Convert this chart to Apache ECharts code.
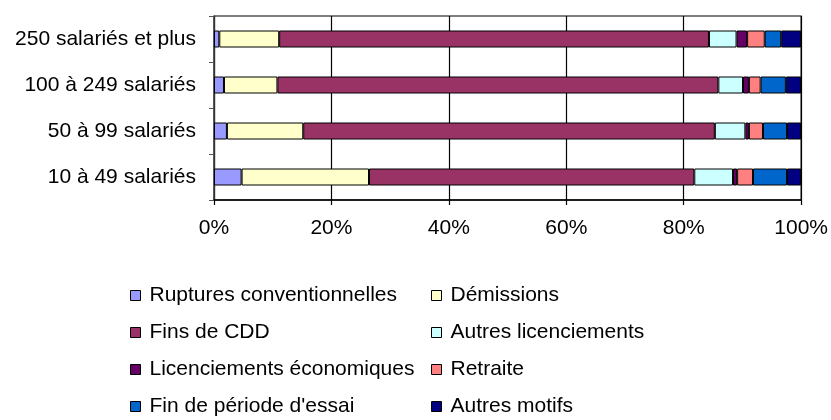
<!DOCTYPE html>
<html>
<head>
<meta charset="utf-8">
<script src="https://cdn.jsdelivr.net/npm/echarts@6/dist/echarts.min.js"></script>
<style>
  html, body { margin: 0; padding: 0; background: #fff; }
  #main { width: 831px; height: 420px; }
</style>
</head>
<body>
<div id="main"></div>
<script>
// catégories (de bas en haut)
const categories = ['10 à 49 salariés', '50 à 99 salariés', '100 à 249 salariés', '250 salariés et plus']
const xTicks = [0, 20, 40, 60, 80, 100]

// parts en %
const ruptures = [4.7, 2.2, 1.7, 0.9]
const demissions = [21.7, 13.0, 9.1, 10.2]
const finsCdd = [55.4, 70.1, 75.1, 73.2]
const autresLic = [6.6, 5.2, 4.2, 4.7]
const licEco = [0.7, 0.6, 1.0, 1.8]
const retraite = [2.7, 2.4, 2.0, 3.0]
const finEssai = [5.8, 4.1, 4.3, 2.8]
const autresMotifs = [2.4, 2.4, 2.6, 3.4]

const seriesDefs = [
  { name: 'Ruptures conventionnelles', data: ruptures, color: '#9999FF' },
  { name: 'Démissions', data: demissions, color: '#FFFFCC' },
  { name: 'Fins de CDD', data: finsCdd, color: '#993366' },
  { name: 'Autres licenciements', data: autresLic, color: '#CCFFFF' },
  { name: 'Licenciements économiques', data: licEco, color: '#660066' },
  { name: 'Retraite', data: retraite, color: '#FF8080' },
  { name: "Fin de période d'essai", data: finEssai, color: '#0066CC' },
  { name: 'Autres motifs', data: autresMotifs, color: '#000080' }
]

const font = "'Liberation Sans', Arial, sans-serif"
const lineColor = 'rgba(0,0,0,1)'

const legendBase = {
  orient: 'vertical',
  top: 285,
  height: 135,
  padding: 0,
  itemWidth: 10,
  itemHeight: 10,
  itemGap: 16,
  icon: 'rect',
  itemStyle: { borderColor: '#000', borderWidth: 1 },
  textStyle: { fontFamily: font, fontSize: 21, color: '#000', lineHeight: 21, padding: [0, 0, 0, 4] }
}

const myChart = echarts.init(document.getElementById('main'))
const option = {
  animation: false,
  grid: {
    left: 214,
    right: 29,
    top: 16,
    bottom: 220,
    show: true,
    backgroundColor: 'rgba(255,255,255,0)',
    borderColor: lineColor,
    borderWidth: 1.2,
    z: 0
  },
  legend: [
    Object.assign({}, legendBase, {
      left: 130,
      data: ['Ruptures conventionnelles', 'Fins de CDD', 'Licenciements économiques', "Fin de période d'essai"]
    }),
    Object.assign({}, legendBase, {
      left: 431,
      data: ['Démissions', 'Autres licenciements', 'Retraite', 'Autres motifs']
    })
  ],
  xAxis: {
    type: 'value',
    min: xTicks[0],
    max: xTicks[xTicks.length - 1],
    interval: xTicks[1] - xTicks[0],
    axisLine: { show: true, lineStyle: { color: lineColor, width: 1.5 } },
    axisTick: { show: true, length: 5, lineStyle: { color: lineColor, width: 1.2 } },
    splitLine: { show: true, lineStyle: { color: lineColor, width: 1.2, opacity: 1 } },
    axisLabel: {
      margin: 18,
      fontFamily: font,
      fontSize: 21,
      color: '#000',
      formatter: '{value}%'
    }
  },
  yAxis: {
    type: 'category',
    data: categories,
    axisLine: { show: true, lineStyle: { color: '#333', width: 1.2 } },
    axisTick: { show: true, length: 5, lineStyle: { color: '#555' } },
    axisLabel: { margin: 18, fontFamily: font, fontSize: 21, color: '#000' }
  },
  series: seriesDefs.map(s => ({
    name: s.name,
    type: 'bar',
    stack: 'total',
    barWidth: 17,
    data: s.data,
    itemStyle: { color: s.color, borderColor: '#000', borderWidth: 1 },
    emphasis: { disabled: true }
  }))
}
myChart.setOption(option)
</script>
</body>
</html>
